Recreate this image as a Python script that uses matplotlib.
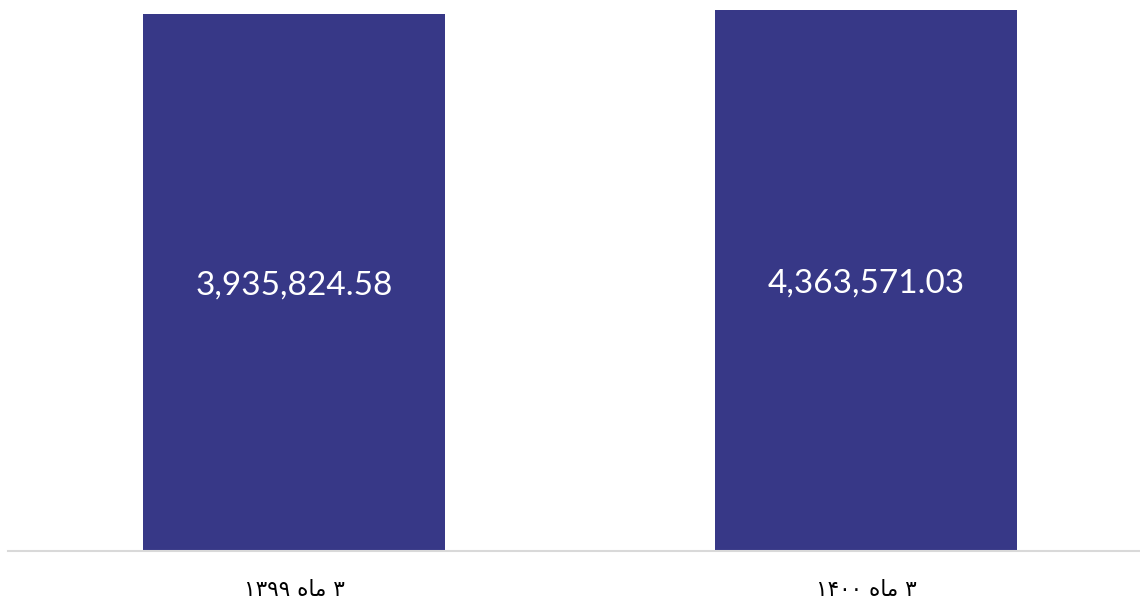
import numpy as np
import matplotlib.pyplot as plt

# Persian labels written in visual (left-to-right) order with presentation forms
periods = ["\u06f1\u06f3\u06f9\u06f9 \ufee9\ufe8e\ufee3 \u06f3",
           "\u06f1\u06f4\u06f0\u06f0 \ufee9\ufe8e\ufee3 \u06f3"]
values = [3935824.58, 4363571.03]

bar_color = "#373887"

fig = plt.figure(figsize=(11.4, 6.02), dpi=100)
ax = fig.add_axes([8 / 1140, 51 / 602, 1132 / 1140, 551 / 602])

x = np.arange(len(values))
ax.bar(x, values, width=0.528, color=bar_color, bottom=0)
ax.set_yscale("log")
ax.set_ylim(1, 10 ** 6.765)
ax.set_xlim(-0.5, 1.479)

for xi, v in zip(x, values):
    ax.text(xi, np.sqrt(v) * 0.92, f"{v:,.2f}", ha="center", va="center",
            color="white", fontsize=24, family=["Lato", "DejaVu Sans"])

ax.set_xticks(x)
ax.set_xticklabels(periods, fontsize=15.5, family=["DejaVu Sans"])
ax.tick_params(axis="x", length=0, pad=21, colors="black")
ax.set_yticks([])
ax.yaxis.set_minor_locator(plt.NullLocator())

for side in ["top", "left", "right"]:
    ax.spines[side].set_visible(False)
ax.spines["bottom"].set_color("#d9d9d9")
ax.spines["bottom"].set_linewidth(1.5)

fig.savefig("out.png", dpi=100)
